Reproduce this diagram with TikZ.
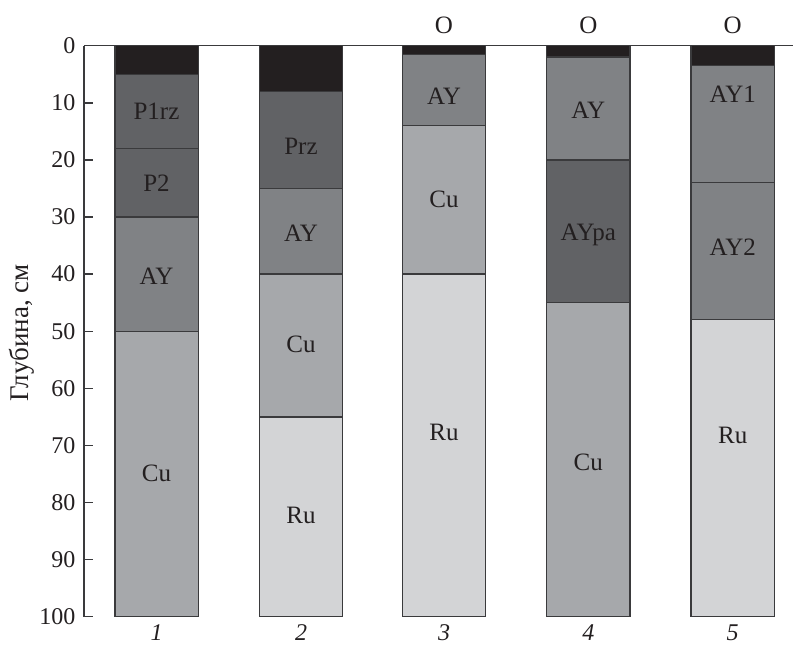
\documentclass[tikz,border=0pt]{standalone}
\usepackage{fontspec}
\setmainfont{Liberation Serif}
\definecolor{cblack}{HTML}{231F20}
\definecolor{cdark}{HTML}{616265}
\definecolor{cgray}{HTML}{808285}
\definecolor{cmid}{HTML}{A6A8AB}
\definecolor{clight}{HTML}{D3D4D6}
\definecolor{cline}{HTML}{3A3A3C}
\newcommand\sg[4]{\draw[segline,fill=#4] ({#1-41.7},{45.7+#2*5.71}) rectangle ({#1+41.7},{45.7+#3*5.71});}
\begin{document}
\begin{tikzpicture}[x=1pt,y=-1pt,
  segline/.style={draw=cline,line width=1.4pt},
  axisline/.style={draw=cline,line width=1.4pt},
  lab/.style={inner sep=0pt,font=\fontsize{25}{28}\selectfont,text=cblack},
  ticklab/.style={inner sep=0pt,anchor=east,font=\fontsize{24}{27}\selectfont,text=cblack},
  barnum/.style={inner sep=0pt,font=\fontsize{24}{27}\selectfont\itshape,text=cblack}]
\useasboundingbox (0,0) rectangle (793,645);
% bar 1
\sg{156.5}{0}{5}{cblack}
\sg{156.5}{5}{18}{cdark}
\sg{156.5}{18}{30}{cdark}
\sg{156.5}{30}{50}{cgray}
\sg{156.5}{50}{100}{cmid}
% bar 2
\sg{301}{0}{8}{cblack}
\sg{301}{8}{25}{cdark}
\sg{301}{25}{40}{cgray}
\sg{301}{40}{65}{cmid}
\sg{301}{65}{100}{clight}
% bar 3
\sg{444}{0}{1.5}{cblack}
\sg{444}{1.5}{14}{cgray}
\sg{444}{14}{40}{cmid}
\sg{444}{40}{100}{clight}
% bar 4
\sg{588.3}{0}{2}{cblack}
\sg{588.3}{2}{20}{cgray}
\sg{588.3}{20}{45}{cdark}
\sg{588.3}{45}{100}{cmid}
% bar 5
\sg{732.7}{0}{3.5}{cblack}
\sg{732.7}{3.5}{24}{cgray}
\sg{732.7}{24}{48}{cgray}
\sg{732.7}{48}{100}{clight}
% axes
\draw[axisline] (84,45.7) -- (793,45.7);
\draw[axisline] (84,45.7) -- (84,616.7);
\foreach \d in {0,10,...,100} {
  \draw[axisline] (84,{45.7+\d*5.71}) -- (93,{45.7+\d*5.71});
  \node[ticklab] (t\d) at (75.5,{45.7+\d*5.71}) {\d};
}
\node[lab,rotate=90,font=\fontsize{27}{30}\selectfont] (ylab) at (22,333) {Глубина, см};
% labels
\node[lab] (l1a) at (156.5,111) {P1rz};
\node[lab] (l1b) at (156.5,183) {P2};
\node[lab] (l1c) at (156.5,276) {AY};
\node[lab] (l1d) at (156.5,473) {Cu};
\node[lab] (l2a) at (301,146) {Prz};
\node[lab] (l2b) at (301,233) {AY};
\node[lab] (l2c) at (301,344) {Cu};
\node[lab] (l2d) at (301,515) {Ru};
\node[lab] (l3o) at (444,25) {O};
\node[lab] (l3a) at (444,96) {AY};
\node[lab] (l3b) at (444,199) {Cu};
\node[lab] (l3c) at (444,432) {Ru};
\node[lab] (l4o) at (588.3,25) {O};
\node[lab] (l4a) at (588.3,110) {AY};
\node[lab] (l4b) at (588.3,235) {AYpa};
\node[lab] (l4c) at (588.3,462) {Cu};
\node[lab] (l5o) at (732.7,25) {O};
\node[lab] (l5a) at (732.7,94) {AY1};
\node[lab] (l5b) at (732.7,247) {AY2};
\node[lab] (l5c) at (732.7,435) {Ru};
% bar numbers
\node[barnum] (n1) at (156.5,633) {1};
\node[barnum] (n2) at (301,633) {2};
\node[barnum] (n3) at (444,633) {3};
\node[barnum] (n4) at (588.3,633) {4};
\node[barnum] (n5) at (732.7,633) {5};
\end{tikzpicture}
\end{document}
